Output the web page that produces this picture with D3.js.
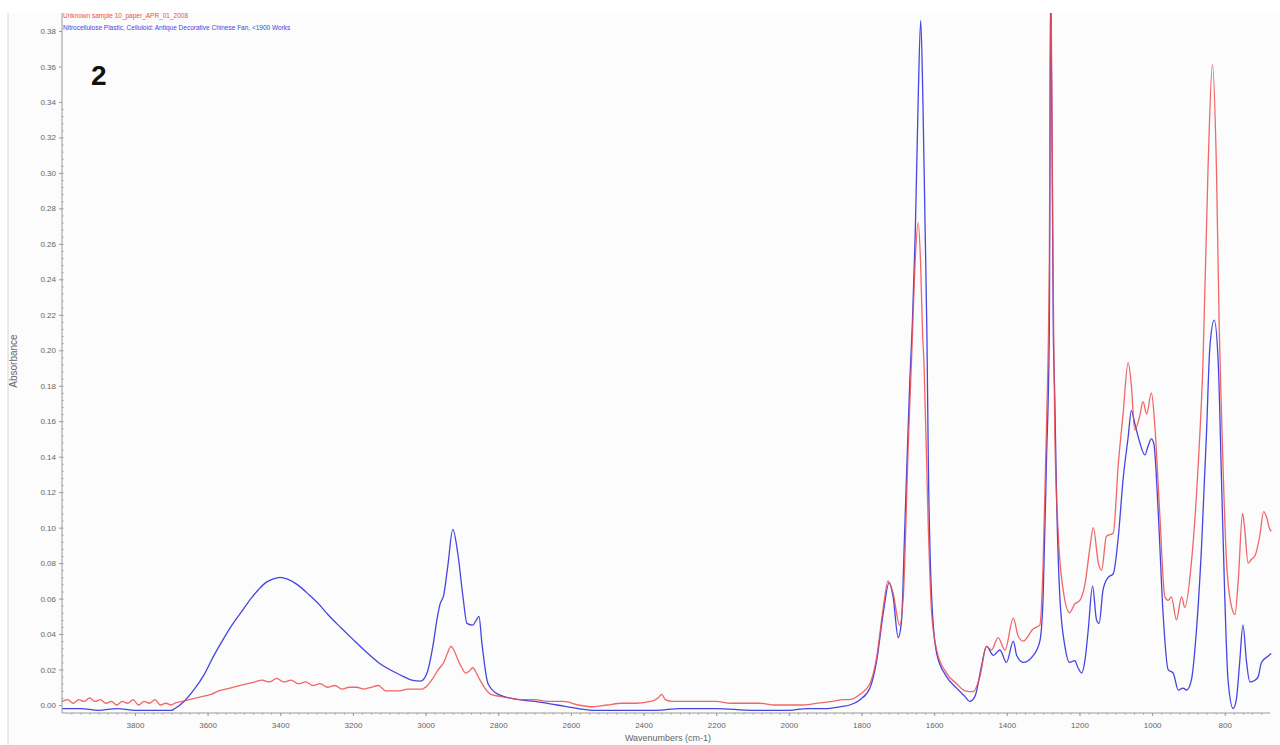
<!DOCTYPE html>
<html>
<head>
<meta charset="utf-8">
<script src="https://cdn.jsdelivr.net/npm/d3@7"></script>
<style>
  body { margin: 0; background: #fff; }
  .axis path, .axis line { stroke: #9a9a9a; }
  .axis text { fill: #666; font-family: "Liberation Sans", Arial, sans-serif; font-size: 8px; }
  .line { fill: none; stroke-width: 1.3; }
</style>
</head>
<body>
<div id="chart"></div>
<script>
// sample spectrum (red): [wavenumber, absorbance]
var sampleSpectrum = [
  [4000,0.002],[3985,0.003],[3970,0.001],[3955,0.003],[3940,0.002],[3925,0.004],[3910,0.002],[3895,0.003],
  [3880,0.001],[3865,0.002],[3850,0.000],[3835,0.002],[3820,0.001],[3805,0.003],[3790,0.000],[3775,0.002],
  [3760,0.001],[3745,0.003],[3730,0.000],[3715,0.001],[3700,0.000],[3690,0.001],[3670,0.002],[3650,0.003],
  [3630,0.004],[3610,0.005],[3590,0.006],[3570,0.008],[3550,0.009],[3530,0.010],[3510,0.011],[3490,0.012],
  [3470,0.013],[3450,0.014],[3430,0.013],[3410,0.015],[3390,0.013],[3370,0.014],[3350,0.012],[3330,0.013],
  [3310,0.011],[3290,0.012],[3270,0.010],[3250,0.011],[3230,0.009],[3210,0.010],[3190,0.010],[3170,0.009],
  [3150,0.010],[3130,0.011],[3110,0.008],[3090,0.008],[3070,0.008],[3050,0.009],[3030,0.009],[3010,0.009],
  [2995,0.011],[2980,0.015],[2965,0.020],[2950,0.024],[2940,0.029],[2930,0.033],[2920,0.030],[2910,0.025],
  [2900,0.021],[2890,0.018],[2880,0.019],[2870,0.021],[2860,0.018],[2850,0.014],[2835,0.009],[2820,0.006],
  [2800,0.005],[2770,0.004],[2740,0.003],[2700,0.003],[2660,0.002],[2620,0.002],[2580,0.000],[2540,-0.001],
  [2500,0.000],[2460,0.001],[2420,0.001],[2380,0.002],[2360,0.004],[2350,0.006],[2340,0.003],[2320,0.002],
  [2280,0.002],[2240,0.002],[2200,0.002],[2160,0.001],[2120,0.001],[2080,0.001],[2040,0.000],[2000,0.000],
  [1960,0.000],[1920,0.001],[1880,0.002],[1850,0.003],[1832,0.003],[1804,0.006],[1777,0.012],[1759,0.026],
  [1740,0.055],[1727,0.070],[1713,0.063],[1695,0.045],[1685,0.061],[1671,0.148],[1662,0.196],[1653,0.247],
  [1644,0.272],[1637,0.247],[1632,0.210],[1628,0.193],[1616,0.099],[1607,0.052],[1593,0.031],[1566,0.018],
  [1538,0.012],[1515,0.008],[1493,0.0075],[1474,0.016],[1456,0.033],[1442,0.031],[1424,0.038],[1405,0.031],
  [1382,0.049],[1369,0.039],[1355,0.036],[1327,0.043],[1309,0.045],[1300,0.080],[1291,0.155],[1283,0.250],
  [1279,0.420],[1273,0.250],[1268,0.155],[1259,0.099],[1245,0.065],[1227,0.052],[1213,0.057],[1199,0.059],
  [1185,0.068],[1171,0.089],[1162,0.100],[1148,0.080],[1139,0.076],[1126,0.095],[1107,0.097],[1093,0.136],
  [1080,0.164],[1066,0.193],[1057,0.180],[1048,0.155],[1034,0.163],[1025,0.171],[1015,0.164],[1002,0.176],
  [993,0.159],[979,0.108],[965,0.061],[956,0.059],[947,0.061],[933,0.048],[919,0.061],[910,0.055],
  [892,0.080],[873,0.136],[860,0.193],[846,0.303],[834,0.361],[823,0.303],[815,0.210],[809,0.164],
  [795,0.080],[781,0.055],[772,0.051],[763,0.070],[751,0.108],[745,0.099],[736,0.080],[727,0.082],
  [717,0.084],[704,0.095],[693,0.109],[685,0.106],[676,0.099],[672,0.098]
];

// library reference spectrum (blue)
var referenceSpectrum = [
  [4000,-0.002],[3950,-0.002],[3900,-0.003],[3850,-0.002],[3800,-0.003],[3750,-0.003],[3700,-0.003],[3690,-0.002],
  [3665,0.002],[3638,0.0085],[3610,0.017],[3585,0.027],[3560,0.036],[3533,0.045],[3505,0.053],[3481,0.060],
  [3460,0.065],[3440,0.069],[3420,0.071],[3401,0.072],[3380,0.071],[3354,0.068],[3320,0.062],[3290,0.056],
  [3269,0.051],[3230,0.043],[3200,0.037],[3164,0.030],[3130,0.024],[3090,0.019],[3060,0.016],[3038,0.014],
  [3013,0.0135],[2996,0.018],[2980,0.033],[2968,0.049],[2960,0.057],[2950,0.062],[2939,0.078],[2925,0.099],
  [2911,0.085],[2897,0.061],[2886,0.046],[2870,0.045],[2860,0.048],[2853,0.050],[2845,0.035],[2828,0.012],
  [2800,0.006],[2743,0.003],[2700,0.002],[2638,0.000],[2580,-0.002],[2534,-0.003],[2450,-0.003],[2366,-0.003],
  [2300,-0.002],[2200,-0.002],[2100,-0.003],[2000,-0.003],[1950,-0.002],[1900,-0.002],[1860,-0.001],[1832,0.000],
  [1804,0.003],[1777,0.0095],[1759,0.024],[1740,0.052],[1724,0.069],[1713,0.061],[1699,0.038],[1690,0.047],
  [1681,0.099],[1667,0.183],[1660,0.215],[1652,0.266],[1644,0.341],[1637,0.386],[1631,0.341],[1625,0.270],
  [1620,0.210],[1616,0.136],[1607,0.061],[1593,0.029],[1566,0.016],[1538,0.0095],[1515,0.0047],[1502,0.002],
  [1488,0.0047],[1470,0.0215],[1456,0.033],[1437,0.028],[1419,0.031],[1401,0.024],[1382,0.036],[1373,0.028],
  [1355,0.024],[1327,0.028],[1309,0.036],[1300,0.061],[1291,0.136],[1283,0.211],[1279,0.410],[1272,0.210],
  [1268,0.174],[1263,0.117],[1254,0.061],[1240,0.033],[1227,0.024],[1213,0.025],[1204,0.021],[1194,0.018],
  [1185,0.025],[1176,0.042],[1164,0.067],[1153,0.048],[1146,0.046],[1135,0.065],[1121,0.072],[1107,0.074],
  [1093,0.095],[1080,0.127],[1066,0.151],[1057,0.166],[1048,0.159],[1034,0.148],[1020,0.141],[1011,0.146],
  [1002,0.150],[995,0.147],[983,0.108],[970,0.052],[956,0.020],[942,0.018],[928,0.0084],[915,0.0095],
  [905,0.0084],[892,0.014],[878,0.042],[864,0.089],[850,0.155],[841,0.202],[829,0.217],[818,0.193],
  [809,0.127],[800,0.061],[791,0.014],[777,-0.002],[768,0.0033],[759,0.024],[750,0.045],[740,0.024],
  [731,0.013],[717,0.014],[708,0.016],[699,0.024],[681,0.0275],[672,0.029]
];

var xTicks = [3800,3600,3400,3200,3000,2800,2600,2400,2200,2000,1800,1600,1400,1200,1000,800];
var yTicks = d3.range(0, 0.39, 0.02);
var legendNames = ["Unknown sample 10_paper_APR_01_2008",
  "Nitrocellulose Plastic, Celluloid: Antique Decorative Chinese Fan, <1900 Works"];

var sampleColor = "#ee4b4b";
var referenceColor = "#4545e0";

var svg = d3.select("#chart").append("svg")
  .attr("width", 1280)
  .attr("height", 745);

// window frame + plot background
svg.append("rect").attr("x", 8).attr("y", 13).attr("width", 1272).attr("height", 732).style("fill", "#fcfcfc");
svg.append("line").attr("x1", 8).attr("x2", 8).attr("y1", 13).attr("y2", 745).style("stroke", "#d4d4d4");

var xScale = d3.scaleLinear()
  .domain([4000, 670])
  .range([62.3, 1272]);

var yScale = d3.scaleLinear()
  .domain([0, 0.38])
  .range([705, 31]);

var plotTop = 13, plotBottom = 713;

svg.append("clipPath").attr("id", "plotclip")
  .append("rect").attr("x", 62).attr("y", plotTop).attr("width", 1212).attr("height", plotBottom - plotTop);

// minor ticks
svg.append("g")
  .attr("class", "x axis")
  .attr("transform", "translate(0," + plotBottom + ")")
  .call(d3.axisBottom(xScale).tickValues(d3.range(3975, 675, -25)).tickSize(1.5).tickFormat(""))
  .select(".domain").remove();

svg.append("g")
  .attr("class", "y axis")
  .attr("transform", "translate(62,0)")
  .call(d3.axisLeft(yScale).tickValues(d3.range(0.004, 0.34, 0.004)).tickSizeInner(-1.5).tickSizeOuter(0).tickFormat(""))
  .select(".domain").remove();

// major axes
var xAxis = svg.append("g")
  .attr("class", "x axis")
  .attr("transform", "translate(0," + plotBottom + ")")
  .call(d3.axisBottom(xScale).tickValues(xTicks).tickSize(3).tickSizeOuter(0).tickPadding(6).tickFormat(d3.format("d")));
xAxis.select(".domain").attr("d", "M62,0H1270");

var yAxis = svg.append("g")
  .attr("class", "y axis")
  .attr("transform", "translate(62,0)")
  .call(d3.axisLeft(yScale).tickValues(yTicks).tickSize(3).tickSizeOuter(0).tickPadding(3).tickFormat(d3.format(".2f")));
yAxis.select(".domain").attr("d", "M0," + plotTop + "V" + plotBottom);

var line = d3.line()
  .x(function(d) { return xScale(d[0]); })
  .y(function(d) { return yScale(d[1]); })
  .curve(d3.curveMonotoneX);

var plot = svg.append("g").attr("clip-path", "url(#plotclip)");

plot.append("path")
  .datum(referenceSpectrum)
  .attr("class", "line")
  .style("stroke", referenceColor)
  .attr("d", line);

plot.append("path")
  .datum(sampleSpectrum)
  .attr("class", "line")
  .style("stroke", sampleColor)
  .style("stroke-opacity", 0.85)
  .attr("d", line);

// legend text in the corner
svg.append("text").attr("x", 63).attr("y", 18)
  .style("font-family", "Liberation Sans, Arial, sans-serif").style("font-size", "6.5px")
  .style("fill", sampleColor).text(legendNames[0]);
svg.append("text").attr("x", 63).attr("y", 30)
  .style("font-family", "Liberation Sans, Arial, sans-serif").style("font-size", "6.5px")
  .style("fill", referenceColor).text(legendNames[1]);

svg.append("text").attr("x", 91).attr("y", 85)
  .style("font-family", "Liberation Sans, Arial, sans-serif").style("font-size", "28px")
  .style("font-weight", "bold").style("fill", "#111").text("2");

svg.append("text")
  .attr("transform", "translate(17,361) rotate(-90)")
  .attr("text-anchor", "middle")
  .style("font-family", "Liberation Sans, Arial, sans-serif").style("font-size", "10px")
  .style("fill", "#666").text("Absorbance");

svg.append("text").attr("x", 668).attr("y", 741)
  .attr("text-anchor", "middle")
  .style("font-family", "Liberation Sans, Arial, sans-serif").style("font-size", "9px")
  .style("fill", "#666").text("Wavenumbers (cm-1)");
</script>
</body>
</html>
